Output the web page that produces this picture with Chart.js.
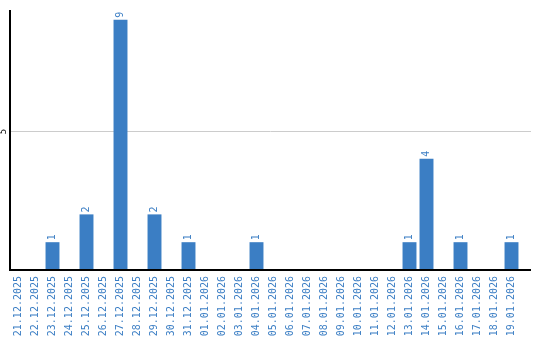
<!DOCTYPE html>
<html>
<head>
<meta charset="utf-8">
<script src="https://cdn.jsdelivr.net/npm/chart.js@4"></script>
<style>
  html, body { margin: 0; padding: 0; background: #fff; }
  #wrap { width: 540px; height: 340px; }
</style>
</head>
<body>
<div id="wrap"><canvas id="barChart"></canvas></div>
<script>
var dates = ["21.12.2025", "22.12.2025", "23.12.2025", "24.12.2025", "25.12.2025", "26.12.2025",
    "27.12.2025", "28.12.2025", "29.12.2025", "30.12.2025", "31.12.2025", "01.01.2026",
    "02.01.2026", "03.01.2026", "04.01.2026", "05.01.2026", "06.01.2026", "07.01.2026",
    "08.01.2026", "09.01.2026", "10.01.2026", "11.01.2026", "12.01.2026", "13.01.2026",
    "14.01.2026", "15.01.2026", "16.01.2026", "17.01.2026", "18.01.2026", "19.01.2026"];
var counts = [0, 0, 1, 0, 2, 0, 9, 0, 2, 0, 1, 0, 0, 0, 1, 0, 0, 0, 0, 0, 0, 0, 0, 1, 4, 0, 1, 0, 0, 1];
var yTicks = [5];

var BLUE = '#3b7ec4';
var FONT = '10px "DejaVu Sans Mono", monospace';

// axes, grid line and rotated labels drawn by hand
var axesPlugin = {
    id: 'axesPlugin',
    beforeDatasetsDraw: function (chart) {
        var ctx = chart.ctx, a = chart.chartArea, y = chart.scales.y;
        var right = chart.width - 9;
        ctx.save();
        ctx.strokeStyle = '#cccccc';
        ctx.lineWidth = 1;
        yTicks.forEach(function (t) {
            var py = Math.round(y.getPixelForValue(t)) + 0.5;
            ctx.beginPath();
            ctx.moveTo(a.left, py);
            ctx.lineTo(right, py);
            ctx.stroke();
            ctx.save();
            ctx.translate(a.left - 2, py);
            ctx.rotate(-Math.PI / 2);
            ctx.fillStyle = '#000';
            ctx.font = '9px "DejaVu Sans Mono", monospace';
            ctx.textAlign = 'center';
            ctx.textBaseline = 'bottom';
            ctx.fillText(String(t), 0, 0);
            ctx.restore();
        });
        ctx.restore();
    },
    afterDatasetsDraw: function (chart) {
        var ctx = chart.ctx, a = chart.chartArea;
        var right = chart.width - 9;
        ctx.save();
        ctx.strokeStyle = '#000';
        ctx.lineWidth = 2;
        ctx.beginPath();
        ctx.moveTo(a.left, a.top);
        ctx.lineTo(a.left, a.bottom);
        ctx.lineTo(right, a.bottom);
        ctx.stroke();

        var meta = chart.getDatasetMeta(0);
        ctx.fillStyle = BLUE;
        ctx.font = FONT;
        ctx.textAlign = 'left';
        ctx.textBaseline = 'middle';
        meta.data.forEach(function (bar, i) {
            if (!counts[i]) return;
            ctx.save();
            ctx.translate(bar.x, bar.y - 2);
            ctx.rotate(-Math.PI / 2);
            ctx.fillText(String(counts[i]), 0, 0);
            ctx.restore();
        });
        ctx.restore();
    }
};

var barChart = new Chart(document.getElementById('barChart'), {
    type: 'bar',
    data: {
        labels: dates,
        datasets: [{
            data: counts,
            backgroundColor: BLUE,
            borderWidth: 0,
            barPercentage: 0.82,
            categoryPercentage: 1.0
        }]
    },
    options: {
        responsive: true,
        maintainAspectRatio: false,
        animation: false,
        layout: { padding: { left: 10, top: 10, right: 20, bottom: 0 } },
        plugins: {
            legend: { display: false },
            tooltip: { enabled: false }
        },
        scales: {
            x: {
                grid: { display: false, drawTicks: false },
                border: { display: false },
                ticks: {
                    color: BLUE,
                    font: { family: '"DejaVu Sans Mono", monospace', size: 10 },
                    minRotation: 90,
                    maxRotation: 90,
                    autoSkip: false,
                    padding: 6
                },
                afterFit: function (scale) { scale.height = 70; }
            },
            y: {
                display: false,
                min: 0,
                max: 9.35
            }
        }
    },
    plugins: [axesPlugin]
});
</script>
</body>
</html>
